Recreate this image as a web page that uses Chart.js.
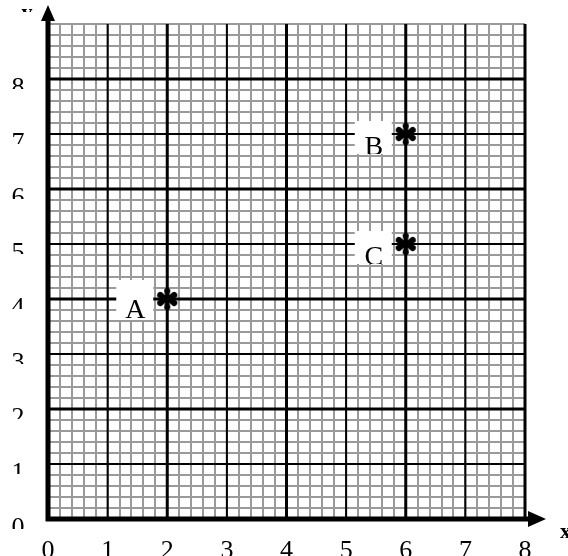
<!DOCTYPE html>
<html lang="en">
<head>
<meta charset="UTF-8">
<title>Points on grid</title>
<script src="https://cdn.jsdelivr.net/npm/chart.js@4.4.0/dist/chart.umd.min.js"></script>
<style>
    body { margin: 0; background: #fff; }
    #wrap { width: 568px; height: 556px; }
</style>
</head>
<body>
<div id="wrap"><canvas id="grid" width="568" height="556"></canvas></div>
<script>
// data
var pointNames = ['A', 'B', 'C'];
var pointX = [2, 6, 6];
var pointY = [4, 7, 5];
var xTickLabels = ['0', '1', '2', '3', '4', '5', '6', '7', '8'];
var yTickLabels = ['0', '1', '2', '3', '4', '5', '6', '7', '8'];
var xMax = 8, yMax = 9, yMajorMax = 8;

var SERIF = '"Liberation Serif", "DejaVu Serif", serif';

// heavy asterisk used as point style
function makeStar() {
    var c = document.createElement('canvas');
    c.width = 26; c.height = 26;
    var g = c.getContext('2d');
    g.translate(13, 13);
    g.fillStyle = '#000';
    for (var i = 0; i < 6; i++) {
        g.save();
        g.rotate(i * Math.PI / 3);
        g.beginPath();
        g.moveTo(-1.3, 0);
        g.lineTo(-3.1, -8);
        g.arc(0, -8, 3.1, Math.PI, 0);
        g.lineTo(1.3, 0);
        g.closePath();
        g.fill();
        g.restore();
    }
    g.beginPath();
    g.arc(0, 0, 3, 0, Math.PI * 2);
    g.fill();
    return c;
}

var decorations = {
    id: 'decorations',
    beforeDatasetsDraw: function (chart) {
        var c = chart.ctx, xs = chart.scales.x, ys = chart.scales.y;
        var x0 = xs.getPixelForValue(0), y0 = ys.getPixelForValue(0);
        var xEnd = xs.getPixelForValue(xMax), yTop = ys.getPixelForValue(yMax);
        var i, p;
        c.save();
        c.strokeStyle = '#000';
        c.fillStyle = '#000';

        // major grid lines, over the fine grid
        for (i = 1; i <= xMax; i++) {
            p = xs.getPixelForValue(i);
            c.lineWidth = i % 2 === 0 ? 3 : 2;
            c.beginPath();
            c.moveTo(p, yTop);
            c.lineTo(p, y0);
            c.stroke();
        }
        for (i = 1; i <= yMajorMax; i++) {
            p = ys.getPixelForValue(i);
            c.lineWidth = i % 2 === 0 ? 3 : 2;
            c.beginPath();
            c.moveTo(x0, p);
            c.lineTo(xEnd, p);
            c.stroke();
        }

        // axes
        c.lineWidth = 5;
        c.beginPath();
        c.moveTo(x0, y0 + 2.5);
        c.lineTo(x0, yTop - 3);
        c.moveTo(x0 - 2.5, y0);
        c.lineTo(xEnd + 4, y0);
        c.stroke();
        c.beginPath();
        c.moveTo(xEnd + 3, y0 - 8);
        c.lineTo(xEnd + 21, y0);
        c.lineTo(xEnd + 3, y0 + 8);
        c.closePath();
        c.fill();
        c.beginPath();
        c.moveTo(x0 - 7, yTop - 3);
        c.lineTo(x0, yTop - 19);
        c.lineTo(x0 + 7, yTop - 3);
        c.closePath();
        c.fill();

        // tick labels
        c.font = '26px ' + SERIF;
        c.textAlign = 'center';
        c.textBaseline = 'alphabetic';
        xTickLabels.forEach(function (t, i) {
            c.fillText(t, xs.getPixelForValue(i), 558);
        });
        yTickLabels.forEach(function (t, i) {
            var py = ys.getPixelForValue(i);
            c.save();
            c.beginPath();
            c.rect(0, py - 2, 40, 12);
            c.clip();
            c.fillText(t, 18, py + 16);
            c.restore();
        });

        // axis names
        c.font = 'bold 22px ' + SERIF;
        c.textAlign = 'left';
        c.fillText('x', 560, 538);
        c.save();
        c.beginPath();
        c.rect(0, 0, 45, 12);
        c.clip();
        c.textAlign = 'center';
        c.fillText('y', 27, 19);
        c.restore();

        // point name boxes
        var meta = chart.getDatasetMeta(0);
        c.font = '28px ' + SERIF;
        c.textAlign = 'center';
        meta.data.forEach(function (pt, i) {
            var bx = pt.x - 51, by = pt.y - 13, bw = 37, bh = 33;
            if (i === 0) { by = pt.y - 19; bh = 40; }
            c.fillStyle = '#fff';
            c.fillRect(bx, by, bw, bh);
            c.save();
            c.beginPath();
            c.rect(bx, by, bw, bh);
            c.clip();
            c.fillStyle = '#000';
            c.fillText(pointNames[i], pt.x - 32, pt.y + (i === 0 ? 19 : 21));
            c.restore();
        });
        c.restore();
    }
};

var fineGrid = {
    drawTicks: false,
    color: '#9a9a9a',
    lineWidth: 2
};

var chart = new Chart(document.getElementById('grid'), {
    type: 'scatter',
    data: {
        datasets: [{
            data: pointX.map(function (x, i) { return { x: x, y: pointY[i] }; }),
            pointStyle: makeStar(),
            pointRadius: 13,
            showLine: false
        }]
    },
    options: {
        responsive: false,
        animation: false,
        events: [],
        layout: { padding: { left: 48, right: 43, top: 24, bottom: 37 } },
        plugins: { legend: { display: false }, tooltip: { enabled: false } },
        scales: {
            x: {
                type: 'linear', min: 0, max: xMax,
                ticks: { stepSize: 0.2, display: false },
                border: { display: false },
                grid: fineGrid
            },
            y: {
                type: 'linear', min: 0, max: yMax,
                ticks: { stepSize: 0.2, display: false },
                border: { display: false },
                grid: fineGrid
            }
        }
    },
    plugins: [decorations]
});
</script>
</body>
</html>
